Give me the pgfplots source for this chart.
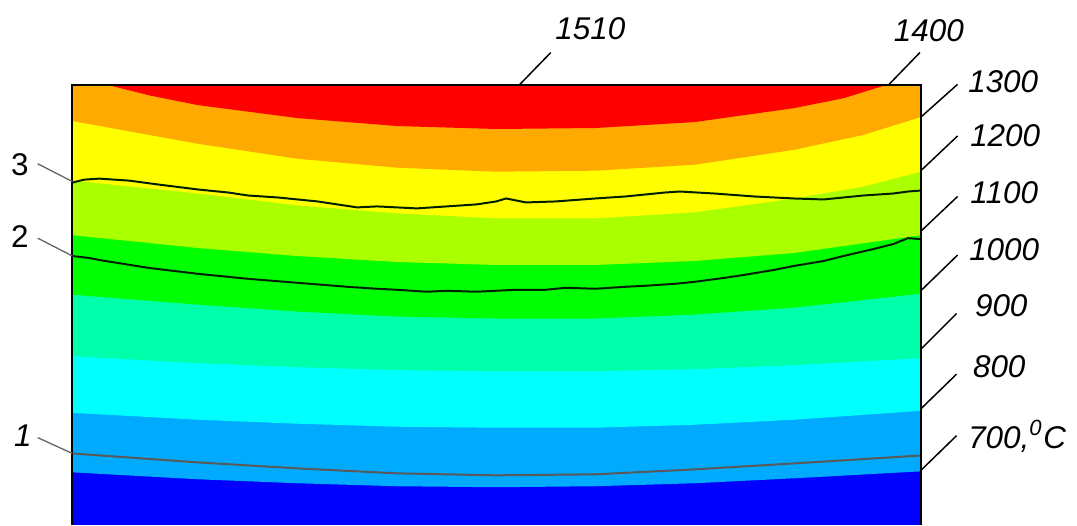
\documentclass[border=0pt]{standalone}
\usepackage{pgfplots}
\pgfplotsset{compat=1.18}
\usepackage{fontspec}
\setmainfont{Liberation Sans}
\definecolor{cRed}{RGB}{255,0,0}
\definecolor{cOrange}{RGB}{255,170,0}
\definecolor{cYellow}{RGB}{255,255,0}
\definecolor{cYG}{RGB}{170,255,0}
\definecolor{cGreen}{RGB}{0,255,0}
\definecolor{cSpring}{RGB}{0,255,170}
\definecolor{cCyan}{RGB}{0,255,255}
\definecolor{cLBlue}{RGB}{0,170,255}
\definecolor{cBlue}{RGB}{0,0,255}
\begin{document}
\begin{tikzpicture}
\begin{axis}[
  scale only axis, width=323.1pt, height=158.7pt,
  xmin=0, xmax=1077, ymin=0, ymax=529, y dir=reverse,
  hide axis, clip=false,
  font=\fontsize{9.5}{11}\selectfont\itshape]
% bounding box
\addplot[draw=none] coordinates {(0,0) (1077,529)};
% background blue
\addplot[fill=cBlue, draw=none] coordinates {(73,529) (73,86) (928,86) (928,529)};
% above 700 boundary
\addplot[fill=cLBlue, draw=none] coordinates {(73,476) (200,483) (300,487) (400,490) (500,491) (600,490) (700,487) (800,482) (928,475) (928,86) (73,86)};
% above 800
\addplot[fill=cCyan, draw=none] coordinates {(73,416) (200,423) (300,427) (400,430) (500,431) (600,431) (700,428) (800,423) (928,414) (928,86) (73,86)};
% above 900
\addplot[fill=cSpring, draw=none] coordinates {(73,359) (200,366) (300,370) (400,373) (500,374) (600,374) (700,372) (800,368) (928,361) (928,86) (73,86)};
% above 1000
\addplot[fill=cGreen, draw=none] coordinates {(73,297) (200,307) (300,314) (400,319) (500,321) (600,321) (700,317) (800,310) (928,296) (928,86) (73,86)};
% above 1100
\addplot[fill=cYG, draw=none] coordinates {(73,237) (200,250) (300,258) (400,264) (500,267) (600,267) (700,263) (800,255) (928,237) (928,86) (73,86)};
% above 1200
\addplot[fill=cYellow, draw=none] coordinates {(73,182) (200,195) (300,207) (400,215) (500,220) (600,220) (700,214) (800,200) (870,188) (928,173) (928,86) (73,86)};
% above 1300
\addplot[fill=cOrange, draw=none] coordinates {(73,122) (200,145) (300,160) (400,169) (500,173) (600,172) (700,166) (800,151) (870,136) (928,118) (928,86) (73,86)};
% 1400 / red
\addplot[fill=cRed, draw=none] coordinates {(110,86) (150,96) (200,106) (300,119) (400,127) (500,130) (600,129) (700,123) (800,109) (850,99) (892,86)};
% line 3
\addplot[draw=black!70!green!40!black, line width=0.6pt] coordinates {(73,184) (85,181) (100,180) (130,182) (160,186) (200,191) (230,194) (250,197) (280,199) (300,201) (320,203) (340,206) (360,209) (380,208) (400,209) (420,210) (450,208) (480,206) (500,203) (510,200) (520,202) (530,204) (560,203) (600,200) (630,198) (650,196) (670,194) (685,193) (720,195) (760,198) (800,200) (830,201) (850,199) (870,197) (900,195) (915,193) (928,192)};
% line 2
\addplot[draw=black!70!green!40!black, line width=0.6pt] coordinates {(73,258) (90,260) (100,262) (150,270) (200,276) (250,281) (300,285) (350,289) (380,291) (400,292) (430,294) (450,293) (480,294) (500,293) (520,292) (550,292) (570,290) (600,291) (630,289) (650,288) (680,286) (700,284) (730,280) (750,277) (780,272) (800,268) (830,263) (850,258) (880,251) (900,246) (915,240) (928,241)};
% line 1
\addplot[draw=black!65, line width=0.6pt] coordinates {(73,457) (200,466) (300,472) (400,477) (500,479) (600,478) (700,473) (800,467) (928,459)};
% frame
\draw[black, line width=0.6pt] (axis cs:73,529) -- (axis cs:73,86) -- (axis cs:928,86) -- (axis cs:928,529);
% leaders right
\draw[black, line width=0.45pt] (axis cs:523,86) -- (axis cs:555,53);
\draw[black, line width=0.45pt] (axis cs:895,86) -- (axis cs:927,53);
\draw[black, line width=0.45pt] (axis cs:928,118) -- (axis cs:965,85);
\draw[black, line width=0.45pt] (axis cs:928,172) -- (axis cs:965,137);
\draw[black, line width=0.45pt] (axis cs:928,233) -- (axis cs:965,198);
\draw[black, line width=0.45pt] (axis cs:928,293) -- (axis cs:965,257);
\draw[black, line width=0.45pt] (axis cs:928,352) -- (axis cs:964,316);
\draw[black, line width=0.45pt] (axis cs:928,412) -- (axis cs:964,377);
\draw[black, line width=0.45pt] (axis cs:928,474) -- (axis cs:964,439);
% leaders left
\draw[black!60, line width=0.4pt] (axis cs:38,165) -- (axis cs:73,183);
\draw[black!60, line width=0.4pt] (axis cs:38,240) -- (axis cs:73,258);
\draw[black!60, line width=0.4pt] (axis cs:38,441) -- (axis cs:73,457);
% labels
\node at (axis cs:595,29) {1510};
\node at (axis cs:936,31) {1400};
\node at (axis cs:1011,82) {1300};
\node at (axis cs:1013,137) {1200};
\node at (axis cs:1012,194) {1100};
\node at (axis cs:1012,252) {1000};
\node at (axis cs:1009,308) {900};
\node at (axis cs:1007,370) {800};
\node at (axis cs:1025,440) {700,\textsuperscript{0}C};
\node[font=\fontsize{9.5}{11}\selectfont\upshape] at (axis cs:20,166) {3};
\node[font=\fontsize{9.5}{11}\selectfont\upshape] at (axis cs:20,238) {2};
\node at (axis cs:23,439) {1};
\end{axis}
\end{tikzpicture}
\end{document}
